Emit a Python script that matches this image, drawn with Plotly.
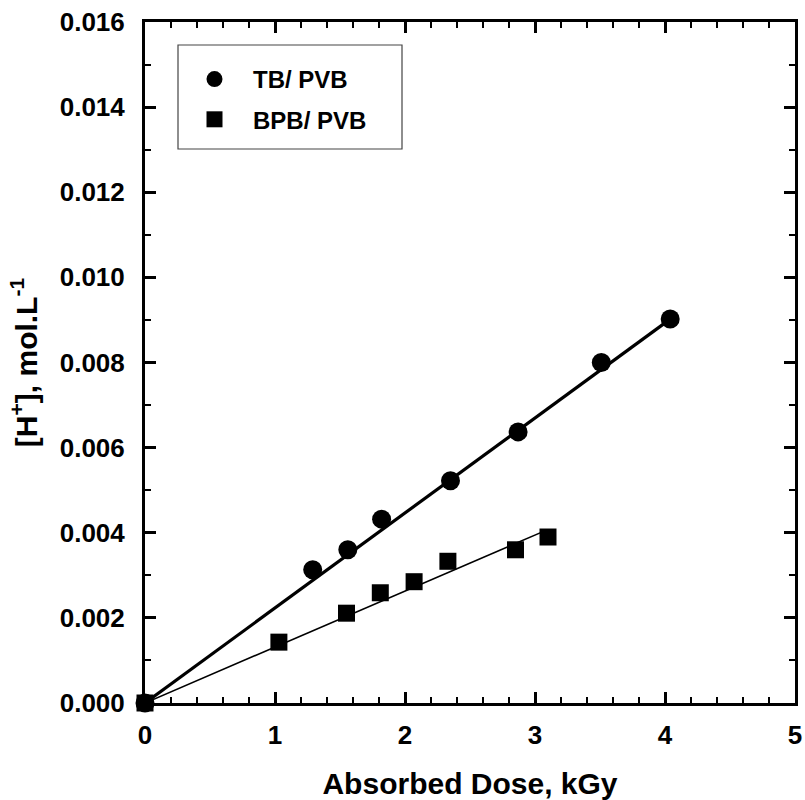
import plotly.graph_objects as go

# Data
tb_dose = [0.0, 1.29, 1.56, 1.82, 2.35, 2.87, 3.51, 4.04]
tb_h = [0.0, 0.00313, 0.00360, 0.00432, 0.00522, 0.00637, 0.00800, 0.00902]
bpb_dose = [0.0, 1.03, 1.55, 1.81, 2.07, 2.33, 2.85, 3.10]
bpb_h = [0.0, 0.00143, 0.00211, 0.00259, 0.00285, 0.00333, 0.00360, 0.00390]

# Linear fit lines (endpoints)
tb_fit_x = [0.0, 4.04]
tb_fit_y = [0.0, 0.00902]
bpb_fit_x = [0.0, 3.08]
bpb_fit_y = [0.0, 0.00405]

x_ticks = [0, 1, 2, 3, 4, 5]
y_ticks = [0.000, 0.002, 0.004, 0.006, 0.008, 0.010, 0.012, 0.014, 0.016]

FONT = "Liberation Sans, Arial, sans-serif"

# body margin is removed by post_script, so the figure sits at the page origin
OFF = 0
W, H = 805, 800
L, T = 145, 22
PW, PH = 650, 681


def px(xp):
    return (xp - OFF - L) / PW


def py(yp):
    return 1 - (yp - OFF - T) / PH


fig = go.Figure()
fig.add_trace(go.Scatter(x=tb_fit_x, y=tb_fit_y, mode="lines",
                         line=dict(color="black", width=3.2),
                         showlegend=False, cliponaxis=False, hoverinfo="skip"))
fig.add_trace(go.Scatter(x=bpb_fit_x, y=bpb_fit_y, mode="lines",
                         line=dict(color="black", width=1.6),
                         showlegend=False, cliponaxis=False, hoverinfo="skip"))
fig.add_trace(go.Scatter(x=tb_dose, y=tb_h, mode="markers", name="TB/ PVB",
                         marker=dict(symbol="circle", size=19, color="black"),
                         legendgroup="a", cliponaxis=False))
fig.add_trace(go.Scatter(x=bpb_dose, y=bpb_h, mode="markers", name="BPB/ PVB",
                         marker=dict(symbol="square", size=17, color="black"),
                         legendgroup="b", cliponaxis=False))

axis_common = dict(
    showline=True, linecolor="black", linewidth=3, mirror="ticks",
    ticks="inside", ticklen=11, tickwidth=2.5, tickcolor="black",
    showgrid=False, zeroline=False, automargin=False,
    ticklabeloverflow="allow",
    tickfont=dict(family=FONT, size=26, color="black", weight="bold"),
)

fig.update_xaxes(
    range=[0, 5], tickvals=x_ticks, ticktext=[str(v) for v in x_ticks],
    minor=dict(dtick=0.2, ticks="inside", ticklen=6, tickwidth=2, tickcolor="black"),
    title=dict(text="Absorbed Dose, kGy", standoff=26,
               font=dict(family=FONT, size=30, color="black", weight="bold")),
    ticklabelstandoff=7,
    **axis_common)
fig.update_yaxes(
    range=[0, 0.016], tickvals=y_ticks, ticktext=[f"{v:.3f}" for v in y_ticks],
    minor=dict(dtick=0.001, ticks="inside", ticklen=6, tickwidth=2, tickcolor="black"),
    title=dict(text="[H<sup>+</sup>], mol.L<sup>-1</sup>", standoff=14,
               font=dict(family=FONT, size=30, color="black", weight="bold")),
    ticklabelstandoff=12,
    **axis_common)

# legend frame
fig.add_shape(type="rect", xref="paper", yref="paper",
              x0=px(178), x1=px(402), y0=py(149), y1=py(45),
              line=dict(color="#444", width=1.2), fillcolor="rgba(0,0,0,0)")

fig.update_layout(
    width=W, height=H,
    margin=dict(l=L, r=W - L - PW, t=T, b=H - T - PH),
    plot_bgcolor="white", paper_bgcolor="white",
    showlegend=True,
    legend=dict(x=px(176), y=py(57), xanchor="left", yanchor="top",
                bgcolor="rgba(0,0,0,0)", borderwidth=0,
                traceorder="grouped", tracegroupgap=6, itemwidth=67,
                font=dict(family=FONT, size=24, color="black", weight="bold")),
)

fig.write_html(
    "out.html",
    config={"displayModeBar": False},
    post_script="document.body.style.margin='0';document.body.style.overflow='hidden';",
)
